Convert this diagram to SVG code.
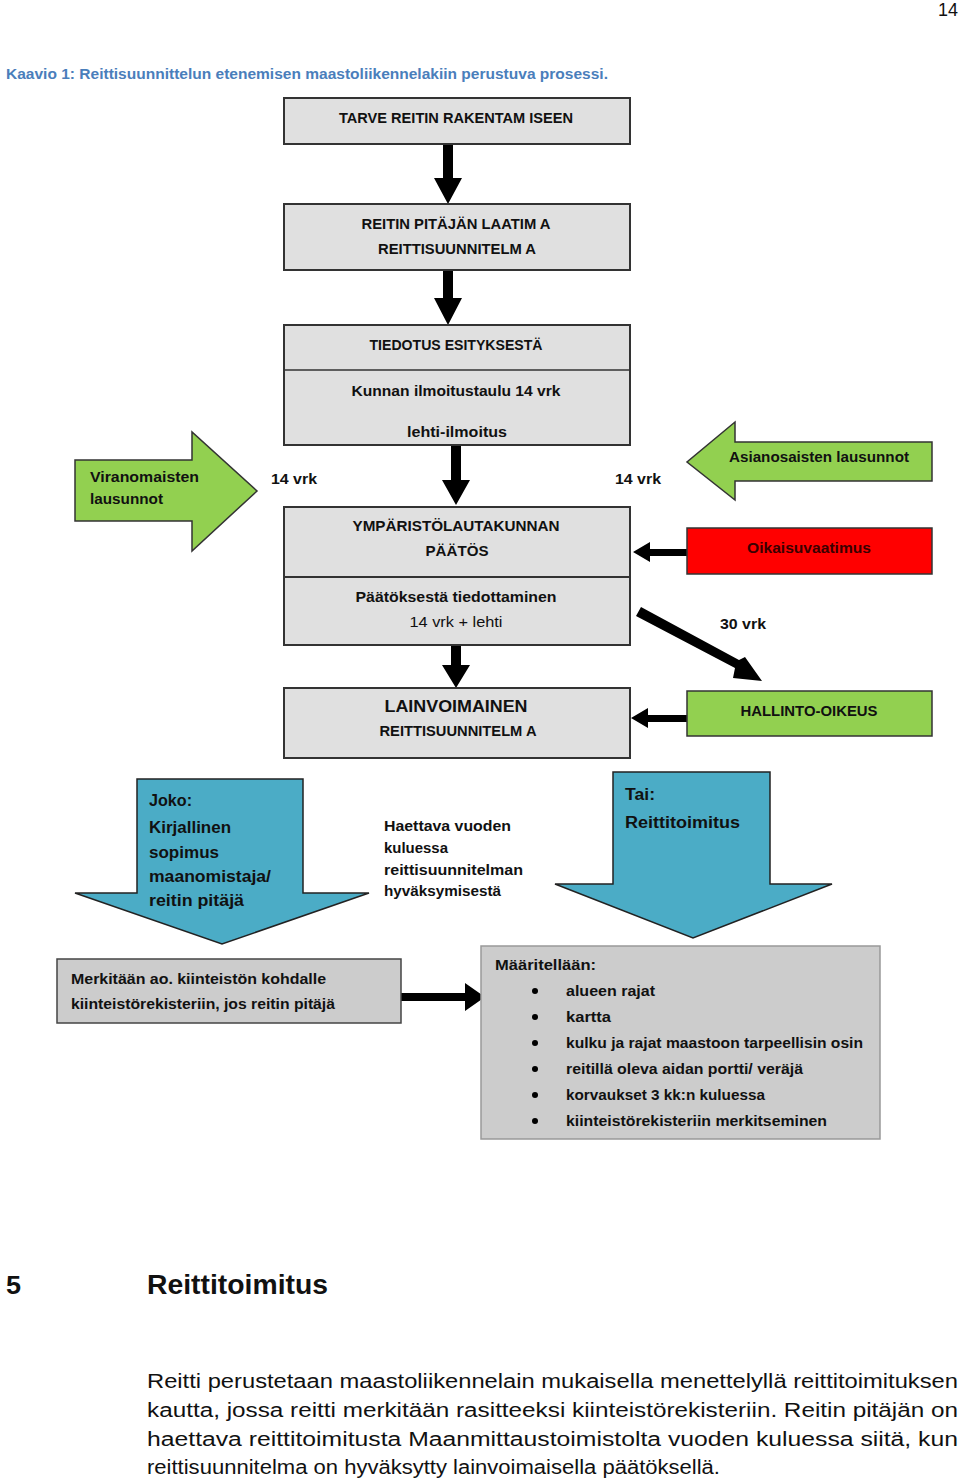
<svg xmlns="http://www.w3.org/2000/svg" width="960" height="1481" viewBox="0 0 960 1481">
<style>
text{font-family:"Liberation Sans",Arial,sans-serif;fill:#111}
.b{font-weight:bold;font-size:15px}
.n{font-size:15px}
.box{fill:#e0e0e0;stroke:#333;stroke-width:2}
.gbox{fill:#cccccc;stroke:#444;stroke-width:1.5}
.green{fill:#92d050;stroke:#333;stroke-width:1.5}
.red{fill:#ff0000;stroke:#333;stroke-width:1.5}
.blue{fill:#4bacc6;stroke:#222;stroke-width:1.5}
.arr{fill:#000}
.p{font-size:20px}
</style>
<rect width="960" height="1481" fill="#fff"/>
<text x="938" y="16" style="font-size:18px" textLength="20" lengthAdjust="spacingAndGlyphs">14</text>
<text x="6" y="79" class="b" style="fill:#4a7ebb" textLength="602" lengthAdjust="spacingAndGlyphs">Kaavio 1: Reittisuunnittelun etenemisen maastoliikennelakiin perustuva prosessi.</text>

<g id="connectors">
<polygon class="arr" points="443,144 453,144 453,178 462,178 448,204 434,178 443,178"/>
<polygon class="arr" points="443,270 453,270 453,298 462,298 448,325 434,298 443,298"/>
<polygon class="arr" points="451,445 461,445 461,480 470,480 456,505 442,480 451,480"/>
<polygon class="arr" points="451,645 461,645 461,665 470,665 456,688 442,665 451,665"/>
<polygon class="arr" points="687,549 650,549 650,542 633,552 650,562 650,556 687,556"/>
<polygon class="arr" points="687,715 648,715 648,708 631,718 648,728 648,722 687,722"/>
<polygon class="arr" points="636,616 641,607 739,660 745,657 762,681 733,678 735,668"/>
<polygon class="arr" points="401,993 465,993 465,983 485,997 465,1011 465,1001 401,1001"/>
</g>

<g id="n-tarve">
<rect class="box" x="284" y="98" width="346" height="46"/>
<text x="456" y="123" class="b" text-anchor="middle" textLength="234" lengthAdjust="spacingAndGlyphs">TARVE REITIN RAKENTAM ISEEN</text>
</g>
<g id="n-laatima">
<rect class="box" x="284" y="204" width="346" height="66"/>
<text x="456" y="229" class="b" text-anchor="middle" textLength="189" lengthAdjust="spacingAndGlyphs">REITIN PITÄJÄN LAATIM A</text>
<text x="457" y="254" class="b" text-anchor="middle" textLength="158" lengthAdjust="spacingAndGlyphs">REITTISUUNNITELM A</text>
</g>
<g id="n-tiedotus">
<rect class="box" x="284" y="325" width="346" height="120"/>
<line x1="284" y1="370" x2="630" y2="370" stroke="#333" stroke-width="1.5"/>
<text x="456" y="350" class="b" text-anchor="middle" textLength="173" lengthAdjust="spacingAndGlyphs">TIEDOTUS ESITYKSESTÄ</text>
<text x="456" y="396" class="b" text-anchor="middle" textLength="209" lengthAdjust="spacingAndGlyphs">Kunnan ilmoitustaulu 14 vrk</text>
<text x="457" y="437" class="b" text-anchor="middle" textLength="100" lengthAdjust="spacingAndGlyphs">lehti-ilmoitus</text>
</g>
<text x="271" y="484" class="b" textLength="46" lengthAdjust="spacingAndGlyphs">14 vrk</text>
<text x="615" y="484" class="b" textLength="46" lengthAdjust="spacingAndGlyphs">14 vrk</text>
<g id="n-viranomaisten">
<polygon class="green" points="75,460 192,460 192,432 257,491 192,551 192,521 75,521"/>
<text x="90" y="482" class="b" textLength="109" lengthAdjust="spacingAndGlyphs">Viranomaisten</text>
<text x="90" y="504" class="b" textLength="73" lengthAdjust="spacingAndGlyphs">lausunnot</text>
</g>
<g id="n-asianosaisten">
<polygon class="green" points="932,442 932,481 735,481 735,500 687,462 735,422 735,442"/>
<text x="729" y="462" class="b" textLength="180" lengthAdjust="spacingAndGlyphs">Asianosaisten lausunnot</text>
</g>
<g id="n-paatos">
<rect class="box" x="284" y="507" width="346" height="70"/>
<text x="456" y="531" class="b" text-anchor="middle" textLength="207" lengthAdjust="spacingAndGlyphs">YMPÄRISTÖLAUTAKUNNAN</text>
<text x="457" y="556" class="b" text-anchor="middle" textLength="63" lengthAdjust="spacingAndGlyphs">PÄÄTÖS</text>
</g>
<g id="n-oikaisu">
<rect class="red" x="687" y="528" width="245" height="46"/>
<text x="809" y="553" class="b" text-anchor="middle" style="fill:#3a0000" textLength="124" lengthAdjust="spacingAndGlyphs">Oikaisuvaatimus</text>
</g>
<g id="n-tiedottaminen">
<rect class="box" x="284" y="577" width="346" height="68"/>
<text x="456" y="602" class="b" text-anchor="middle" textLength="201" lengthAdjust="spacingAndGlyphs">Päätöksestä tiedottaminen</text>
<text x="456" y="627" class="n" text-anchor="middle" textLength="93" lengthAdjust="spacingAndGlyphs">14 vrk + lehti</text>
</g>
<text x="720" y="629" class="b" textLength="46" lengthAdjust="spacingAndGlyphs">30 vrk</text>
<g id="n-lainvoimainen">
<rect class="box" x="284" y="688" width="346" height="70"/>
<text x="456" y="712" class="b" style="font-size:17px" text-anchor="middle" textLength="143" lengthAdjust="spacingAndGlyphs">LAINVOIMAINEN</text>
<text x="458" y="736" class="b" text-anchor="middle" textLength="157" lengthAdjust="spacingAndGlyphs">REITTISUUNNITELM A</text>
</g>
<g id="n-hallinto">
<rect class="green" x="687" y="691" width="245" height="45"/>
<text x="809" y="716" class="b" text-anchor="middle" textLength="137" lengthAdjust="spacingAndGlyphs">HALLINTO-OIKEUS</text>
</g>
<g id="n-joko">
<polygon class="blue" points="137,779 303,779 303,893 369,893 222,944 75,893 137,893"/>
<text x="149" y="806" class="b" style="font-size:16px" textLength="43" lengthAdjust="spacingAndGlyphs">Joko:</text>
<text x="149" y="833" class="b" style="font-size:16px" textLength="82" lengthAdjust="spacingAndGlyphs">Kirjallinen</text>
<text x="149" y="858" class="b" style="font-size:16px" textLength="70" lengthAdjust="spacingAndGlyphs">sopimus</text>
<text x="149" y="882" class="b" style="font-size:16px" textLength="122" lengthAdjust="spacingAndGlyphs">maanomistaja/</text>
<text x="149" y="906" class="b" style="font-size:16px" textLength="95" lengthAdjust="spacingAndGlyphs">reitin pitäjä</text>
</g>
<g id="t-haettava">
<text x="384" y="831" class="b" textLength="127" lengthAdjust="spacingAndGlyphs">Haettava vuoden</text>
<text x="384" y="853" class="b" textLength="64" lengthAdjust="spacingAndGlyphs">kuluessa</text>
<text x="384" y="875" class="b" textLength="139" lengthAdjust="spacingAndGlyphs">reittisuunnitelman</text>
<text x="384" y="896" class="b" textLength="117" lengthAdjust="spacingAndGlyphs">hyväksymisestä</text>
</g>
<g id="n-tai">
<polygon class="blue" points="613,772 770,772 770,884 832,884 693,938 555,884 613,884"/>
<text x="625" y="800" class="b" style="font-size:16px" textLength="30" lengthAdjust="spacingAndGlyphs">Tai:</text>
<text x="625" y="828" class="b" style="font-size:16px" textLength="115" lengthAdjust="spacingAndGlyphs">Reittitoimitus</text>
</g>
<g id="n-merkitaan">
<rect class="gbox" x="57" y="959" width="344" height="64"/>
<text x="71" y="984" class="b" textLength="255" lengthAdjust="spacingAndGlyphs">Merkitään ao. kiinteistön kohdalle</text>
<text x="71" y="1009" class="b" textLength="264" lengthAdjust="spacingAndGlyphs">kiinteistörekisteriin, jos reitin pitäjä</text>
</g>
<g id="n-maaritellaan">
<rect class="gbox" x="481" y="946" width="399" height="193" style="stroke:#999"/>
<text x="495" y="970" class="b" textLength="101" lengthAdjust="spacingAndGlyphs">Määritellään:</text>
<g fill="#000">
<circle cx="535" cy="991" r="3"/><circle cx="535" cy="1017" r="3"/><circle cx="535" cy="1043" r="3"/>
<circle cx="535" cy="1069" r="3"/><circle cx="535" cy="1095" r="3"/><circle cx="535" cy="1121" r="3"/>
</g>
<text x="566" y="996" class="b" textLength="89" lengthAdjust="spacingAndGlyphs">alueen rajat</text>
<text x="566" y="1022" class="b" textLength="45" lengthAdjust="spacingAndGlyphs">kartta</text>
<text x="566" y="1048" class="b" textLength="297" lengthAdjust="spacingAndGlyphs">kulku ja rajat maastoon tarpeellisin osin</text>
<text x="566" y="1074" class="b" textLength="237" lengthAdjust="spacingAndGlyphs">reitillä oleva aidan portti/ veräjä</text>
<text x="566" y="1100" class="b" textLength="199" lengthAdjust="spacingAndGlyphs">korvaukset 3 kk:n kuluessa</text>
<text x="566" y="1126" class="b" textLength="261" lengthAdjust="spacingAndGlyphs">kiinteistörekisteriin merkitseminen</text>
</g>

<text x="6" y="1294" style="font-size:25px;font-weight:bold" textLength="15" lengthAdjust="spacingAndGlyphs">5</text>
<text x="147" y="1294" style="font-size:27px;font-weight:bold" textLength="181" lengthAdjust="spacingAndGlyphs">Reittitoimitus</text>
<text x="147" y="1388" class="p" textLength="811" lengthAdjust="spacingAndGlyphs">Reitti  perustetaan  maastoliikennelain  mukaisella  menettelyllä  reittitoimituksen</text>
<text x="147" y="1417" class="p" textLength="811" lengthAdjust="spacingAndGlyphs">kautta,  jossa  reitti  merkitään  rasitteeksi  kiinteistörekisteriin.  Reitin  pitäjän  on</text>
<text x="147" y="1446" class="p" textLength="811" lengthAdjust="spacingAndGlyphs">haettava  reittitoimitusta  Maanmittaustoimistolta  vuoden  kuluessa  siitä,  kun</text>
<text x="147" y="1474" class="p" textLength="573" lengthAdjust="spacingAndGlyphs">reittisuunnitelma on hyväksytty lainvoimaisella päätöksellä.</text>
</svg>
